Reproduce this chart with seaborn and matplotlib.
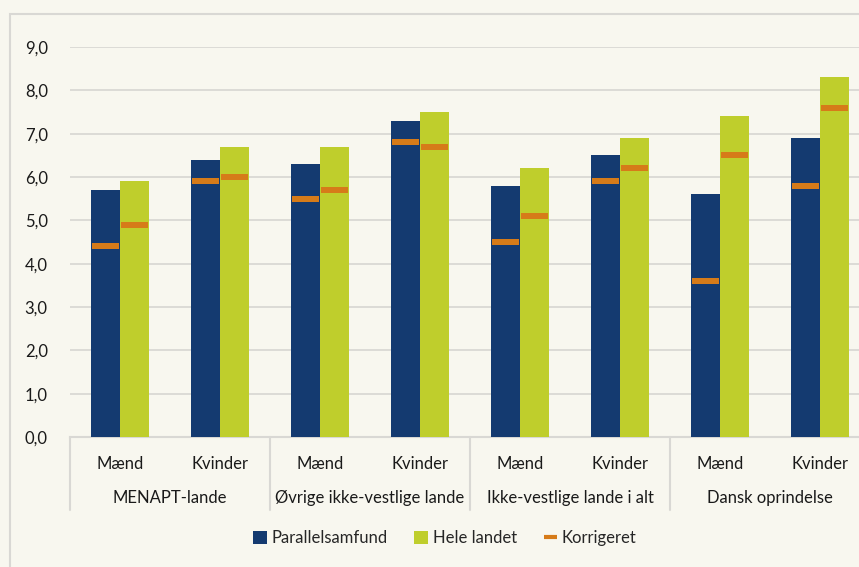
import numpy as np
import pandas as pd
import matplotlib
matplotlib.use("Agg")
import matplotlib.pyplot as plt
import seaborn as sns
from matplotlib.patches import Patch, Rectangle
from matplotlib.lines import Line2D
from matplotlib.transforms import blended_transform_factory

# Data
groups = ["MENAPT-lande", "Øvrige ikke-vestlige lande", "Ikke-vestlige lande i alt", "Dansk oprindelse"]
genders = ["Mænd", "Kvinder"]
parallel = [5.7, 6.4, 6.3, 7.3, 5.8, 6.5, 5.6, 6.9]
hele_landet = [5.9, 6.7, 6.7, 7.5, 6.2, 6.9, 7.4, 8.3]
korr_parallel = [4.4, 5.9, 5.5, 6.8, 4.5, 5.9, 3.6, 5.8]
korr_hele = [4.9, 6.0, 5.7, 6.7, 5.1, 6.2, 6.5, 7.6]
yticks = np.arange(0, 9.5, 1.0)

navy = "#143A70"
green = "#BFCE2C"
orange = "#D67B19"
bg = "#F8F7EF"
grey = "#D9D8D4"

cats = [f"{g}|{s}" for g in groups for s in genders]
df = pd.DataFrame({
    "cat": cats * 2,
    "serie": ["Parallelsamfund"] * 8 + ["Hele landet"] * 8,
    "value": parallel + hele_landet,
})

sns.set_style("white")
plt.rcParams["font.family"] = ["Lato", "DejaVu Sans"]

fig = plt.figure(figsize=(8.59, 5.67), dpi=100, facecolor=bg)
ax = fig.add_axes([70 / 859, 130 / 567, 800 / 859, 390 / 567])
ax.set_facecolor(bg)

# outer frame
fig.patches.append(Rectangle((10 / 859, -0.1), 1.2, 553 / 567 + 0.1, transform=fig.transFigure,
                             fill=False, edgecolor=grey, linewidth=1.5, zorder=0))

sns.barplot(data=df, x="cat", y="value", hue="serie", order=cats,
            hue_order=["Parallelsamfund", "Hele landet"],
            palette=[navy, green], width=0.58, gap=0, saturation=1,
            legend=False, linewidth=0, edgecolor="none", ax=ax, zorder=3)

# corrected markers
pos = np.arange(len(cats))
mh = 0.14
ax.bar(pos - 0.145, height=mh, bottom=np.array(korr_parallel) - mh / 2, width=0.27,
       color=orange, linewidth=0, edgecolor="none", zorder=4)
ax.bar(pos + 0.145, height=mh, bottom=np.array(korr_hele) - mh / 2, width=0.27,
       color=orange, linewidth=0, edgecolor="none", zorder=4)

ax.set_ylim(0, 9)
ax.set_xlim(-0.5, 7.5)
ax.set_yticks(yticks)
ax.set_yticklabels([f"{v:.1f}".replace(".", ",") for v in yticks], fontsize=12, color="#1a1a1a")
ax.yaxis.grid(True, color=grey, linewidth=1.3, zorder=0)
ax.set_axisbelow(True)
ax.tick_params(axis="y", length=0, pad=16)
ax.tick_params(axis="x", length=0, pad=14)
ax.set_xticks(pos)
ax.set_xticklabels([genders[i % 2] for i in range(8)], fontsize=12, color="#1a1a1a")
ax.set_xlabel("")
ax.set_ylabel("")
for s in ["left", "right", "top"]:
    ax.spines[s].set_visible(False)
ax.spines["bottom"].set_color(grey)
ax.spines["bottom"].set_linewidth(1.5)

# group labels and separators
tr = blended_transform_factory(ax.transData, ax.transAxes)
for i, g in enumerate(groups):
    ax.text(2 * i + 0.5, -61 / 390, g, transform=tr, ha="center", va="center",
            fontsize=12, color="#1a1a1a")
for xs in [-0.5, 1.5, 3.5, 5.5, 7.5]:
    ax.add_line(Line2D([xs, xs], [0, -73 / 390], transform=tr, color=grey,
                       linewidth=1.5, clip_on=False))

handles = [Patch(facecolor=navy, edgecolor="none"), Patch(facecolor=green, edgecolor="none"),
           Line2D([0], [0], color=orange, linewidth=3, solid_capstyle="butt")]
fig.legend(handles, ["Parallelsamfund", "Hele landet", "Korrigeret"], loc="center",
           bbox_to_anchor=(445 / 859, 29 / 567), ncol=3, frameon=False, fontsize=12,
           handlelength=0.8, handleheight=0.8, handletextpad=0.3, columnspacing=1.6)

fig.savefig("out.png", dpi=100, facecolor=bg)
